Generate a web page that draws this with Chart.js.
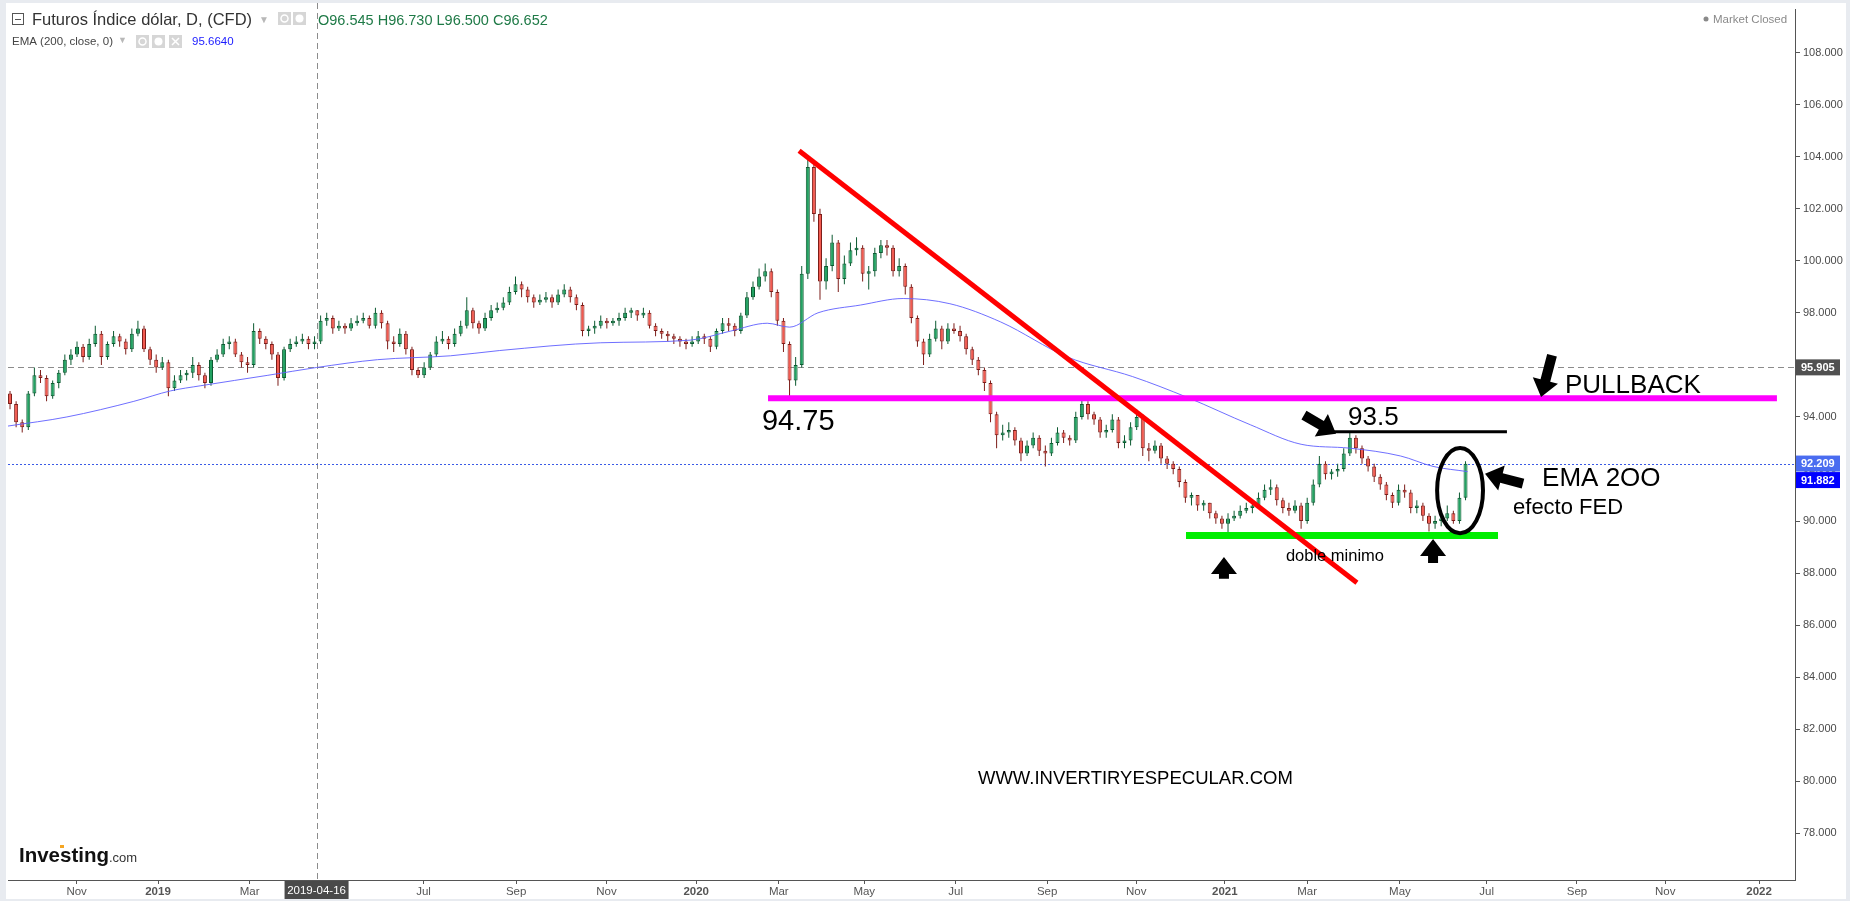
<!DOCTYPE html>
<html>
<head>
<meta charset="utf-8">
<script src="https://cdn.jsdelivr.net/npm/chart.js@4.4.1/dist/chart.umd.min.js"></script>
<style>
html, body { margin: 0; padding: 0; background: #e8ebf0; }
canvas { display: block; }
</style>
</head>
<body>
<canvas id="dxy" width="1850" height="901"></canvas>
<script>
// each candle covers 3 trading days; x axis is counted in trading days
const barStep = 3;
const firstOpen = 94.9;
const closes = [
  94.5, 93.8, 93.6, 94.9, 95.6, 95.5, 94.8, 95.3, 95.7, 96.2,
  96.4, 96.7, 96.3, 96.8, 97.2, 96.3, 96.8, 97.1, 96.9, 96.6,
  97.2, 97.4, 96.6, 96.2, 95.9, 96.1, 95.1, 95.4, 95.6, 95.7,
  96.0, 95.6, 95.3, 96.2, 96.4, 96.8, 96.9, 96.4, 96.1, 96.0,
  97.3, 97.0, 96.8, 96.4, 95.5, 96.6, 96.8, 96.9, 97.0, 96.8,
  96.9, 97.7, 97.8, 97.4, 97.5, 97.4, 97.6, 97.7, 97.8, 97.5,
  98.0, 97.6, 96.9, 96.8, 97.2, 96.6, 95.8, 95.6, 95.9, 96.4,
  96.9, 97.0, 96.8, 97.2, 97.5, 98.1, 97.6, 97.4, 97.8, 98.1,
  98.2, 98.4, 98.8, 99.1, 98.9, 98.6, 98.4, 98.5, 98.6, 98.4,
  98.7, 98.9, 98.6, 98.3, 97.3, 97.4, 97.5, 97.7, 97.6, 97.7,
  97.8, 98.0, 98.1, 97.9, 98.0, 97.5, 97.3, 97.2, 97.1, 97.0,
  96.9, 96.8, 96.9, 97.1, 97.0, 96.7, 97.3, 97.6, 97.5, 97.3,
  97.9, 98.6, 99.0, 99.4, 99.6, 98.8, 97.7, 96.8, 95.4, 96.0,
  99.5, 103.6, 101.8, 99.2, 99.8, 100.7, 99.3, 99.9, 100.4, 100.5,
  99.5, 99.6, 100.3, 100.6, 100.5, 99.6, 99.8, 99.0, 97.8, 96.9,
  96.4, 97.0, 97.4, 96.9, 97.4, 97.3, 97.1, 96.6, 96.2, 95.8,
  95.3, 94.1, 93.3, 93.4, 93.5, 93.1, 92.6, 92.9, 93.2, 92.7,
  92.6, 93.0, 93.4, 93.2, 93.1, 94.0, 94.5, 94.1, 93.9, 93.4,
  93.5, 93.9, 93.0, 93.1, 93.6, 94.0, 92.8, 92.7, 92.9, 92.4,
  92.2, 92.0, 91.5, 90.9, 91.0, 90.6, 90.7, 90.3, 90.1, 89.9,
  90.1, 90.2, 90.4, 90.5, 90.6, 90.9, 91.2, 91.3, 90.8, 90.5,
  90.4, 90.6, 90.0, 90.7, 91.4, 92.2, 91.8, 91.9, 92.0, 92.6,
  93.2, 92.8, 92.4, 92.1, 91.7, 91.4, 91.0, 90.7, 91.2, 91.1,
  90.5, 90.6, 90.2, 89.9, 90.0, 90.1, 90.3, 90.0, 90.9, 92.2
];
const highs = [
  95.0, 94.6, 93.9, 95.0, 95.9, 95.8, 95.6, 95.4, 95.8, 96.4,
  96.6, 96.9, 96.8, 97.0, 97.5, 97.3, 96.9, 97.3, 97.2, 97.0,
  97.4, 97.7, 97.5, 96.7, 96.4, 96.3, 96.2, 95.6, 95.8, 95.8,
  96.3, 96.1, 95.7, 96.3, 96.6, 97.0, 97.1, 97.0, 96.5, 96.3,
  97.6, 97.4, 97.1, 96.9, 96.5, 96.7, 97.0, 97.1, 97.2, 97.1,
  97.1, 97.9, 98.0, 97.9, 97.7, 97.6, 97.8, 97.9, 98.0, 97.9,
  98.2, 98.1, 97.7, 97.1, 97.4, 97.3, 96.7, 95.9, 96.1, 96.5,
  97.1, 97.3, 97.1, 97.4, 97.7, 98.6, 98.2, 97.7, 98.0, 98.3,
  98.4, 98.6, 99.0, 99.4, 99.2, 99.0, 98.7, 98.7, 98.8, 98.7,
  98.9, 99.1, 99.0, 98.7, 98.4, 97.5, 97.7, 97.9, 97.8, 97.8,
  98.0, 98.2, 98.2, 98.1, 98.2, 98.1, 97.6, 97.4, 97.3, 97.2,
  97.1, 97.0, 97.1, 97.3, 97.2, 97.1, 97.4, 97.8, 97.8, 97.6,
  98.0, 98.8, 99.2, 99.7, 99.9, 99.7, 98.9, 97.8, 96.9, 96.3,
  99.8, 103.9, 103.8, 102.0, 100.1, 101.0, 100.8, 100.2, 100.7, 100.9,
  100.6, 99.8, 100.5, 100.8, 100.8, 100.6, 100.1, 99.9, 99.1, 97.9,
  97.0, 97.2, 97.7, 97.5, 97.6, 97.6, 97.5, 97.2, 96.7, 96.3,
  95.9, 95.4, 94.2, 93.7, 93.8, 93.6, 93.2, 93.1, 93.4, 93.3,
  92.9, 93.2, 93.6, 93.5, 93.3, 94.2, 94.75, 94.6, 94.2, 94.0,
  93.7, 94.1, 94.0, 93.3, 93.8, 94.3, 94.1, 93.0, 93.1, 93.0,
  92.5, 92.3, 92.1, 91.6, 91.1, 91.0, 90.8, 90.7, 90.4, 90.2,
  90.3, 90.4, 90.6, 90.7, 90.8, 91.1, 91.4, 91.6, 91.4, 90.9,
  90.7, 90.8, 90.7, 90.9, 91.6, 92.5, 92.3, 92.0, 92.2, 92.8,
  93.45, 93.3, 92.9, 92.5, 92.2, 91.8, 91.5, 91.1, 91.4, 91.4,
  91.2, 90.8, 90.7, 90.3, 90.2, 90.3, 90.6, 90.4, 91.1, 92.3
];
const lows = [
  94.3, 93.6, 93.4, 93.5, 94.8, 95.3, 94.6, 94.7, 95.1, 95.6,
  96.0, 96.3, 96.1, 96.2, 96.7, 96.0, 96.2, 96.7, 96.7, 96.4,
  96.5, 97.1, 96.5, 96.0, 95.7, 95.8, 94.8, 95.0, 95.3, 95.4,
  95.5, 95.4, 95.1, 95.2, 96.1, 96.3, 96.6, 96.3, 95.9, 95.7,
  95.9, 96.8, 96.6, 96.2, 95.2, 95.4, 96.5, 96.7, 96.8, 96.6,
  96.6, 96.8, 97.5, 97.2, 97.3, 97.2, 97.3, 97.5, 97.6, 97.4,
  97.4, 97.4, 96.6, 96.5, 96.7, 96.4, 95.6, 95.5, 95.5, 95.8,
  96.3, 96.8, 96.6, 96.7, 97.1, 97.4, 97.4, 97.2, 97.3, 97.7,
  98.0, 98.1, 98.3, 98.7, 98.6, 98.4, 98.2, 98.3, 98.4, 98.2,
  98.3, 98.6, 98.4, 98.1, 97.1, 97.1, 97.2, 97.4, 97.4, 97.5,
  97.5, 97.7, 97.8, 97.7, 97.8, 97.4, 97.1, 97.0, 96.9, 96.8,
  96.7, 96.6, 96.7, 96.8, 96.8, 96.5, 96.6, 97.2, 97.3, 97.1,
  97.2, 97.8, 98.5, 98.9, 99.2, 98.6, 97.5, 96.5, 94.75, 95.2,
  95.9, 99.3, 101.5, 98.5, 98.9, 99.6, 98.8, 99.1, 99.8, 100.2,
  99.2, 98.9, 99.4, 100.1, 100.2, 99.4, 99.4, 98.7, 97.6, 96.7,
  96.0, 96.3, 96.9, 96.6, 96.8, 97.2, 96.9, 96.4, 96.0, 95.6,
  95.0, 93.8, 92.8, 93.1, 93.2, 92.9, 92.3, 92.5, 92.8, 92.5,
  92.1, 92.5, 92.9, 93.0, 92.9, 93.0, 93.9, 93.9, 93.7, 93.2,
  93.2, 93.4, 92.8, 92.8, 92.9, 93.5, 92.5, 92.3, 92.6, 92.2,
  92.0, 91.8, 91.3, 90.7, 90.6, 90.4, 90.4, 90.1, 89.9, 89.7,
  89.4, 90.0, 90.1, 90.3, 90.3, 90.5, 90.8, 91.0, 90.6, 90.3,
  90.2, 90.3, 89.7, 89.9, 90.6, 91.3, 91.6, 91.6, 91.7, 91.9,
  92.5, 92.6, 92.2, 91.9, 91.5, 91.2, 90.8, 90.5, 90.6, 90.9,
  90.3, 90.3, 90.0, 89.6, 89.7, 89.8, 90.0, 89.9, 89.9, 90.8
];

// EMA(200)
const emaX = [0, 29, 62, 80, 95, 128, 152, 182, 218, 242, 292, 336, 356, 374, 385, 399, 420, 441, 464, 489, 522, 554, 581, 612, 637, 661, 686, 702, 719];
const emaY = [93.65, 94.0, 94.6, 95.0, 95.2, 95.6, 95.9, 96.2, 96.35, 96.55, 96.85, 96.95, 97.3, 97.6, 97.45, 98.0, 98.3, 98.55, 98.35, 97.65, 96.3, 95.55, 94.75, 93.7, 92.95, 92.8, 92.5, 92.1, 91.9];

const tickPos = [33.8, 73.9, 119, 204.7, 250.3, 294.8, 339, 379.7, 421.8, 466.8, 511.9, 555.8, 599.4, 640, 685.7, 728.4, 772.9, 816.4, 862.6];
const tickLabels = ["Nov", "2019", "Mar", "Jul", "Sep", "Nov", "2020", "Mar", "May", "Jul", "Sep", "Nov", "2021", "Mar", "May", "Jul", "Sep", "Nov", "2022"];
const yTicks = [78, 80, 82, 84, 86, 88, 90, 92, 94, 96, 98, 100, 102, 104, 106, 108];

const lastPrice = 92.209;
const emaLast = 91.882;
const crossPrice = 95.905;
const crossX = 152;
const crossDate = "2019-04-16";

// hand-drawn lines, in chart units
const redTrend = [{x: 389.7, y: 104.23}, {x: 664.5, y: 87.63}];
const pinkLevel = [{x: 374.4, y: 94.72}, {x: 871.4, y: 94.72}];
const blackLevel = [{x: 652, y: 93.43}, {x: 738.4, y: 93.43}];
const greenLevel = [{x: 580.3, y: 89.45}, {x: 734, y: 89.45}];

const noteTexts = ["94.75", "93.5", "PULLBACK", "EMA 2OO", "efecto FED", "doble minimo"];
const noteAt = [[371.4, 93.5], [660.1, 93.69], [767, 94.92], [755.7, 91.36], [741.4, 90.26], [629.5, 88.45]];
const noteSize = [29, 26, 26, 26, 22, 16.5];
const arrows = [
  [[760.6, 96.37], [755.2, 94.77]],
  [[638.4, 94.07], [654.2, 93.35]],
  [[746.3, 91.44], [727.6, 91.82]],
  [[599, 87.78], [599, 88.62]],
  [[702, 88.39], [702, 89.31]]
];
const ring = {x: 715.3, y: 91.17, rx: 11.3, ry: 1.64};

const xs = closes.map((c, i) => 1 + barStep * i);
const opens = [firstOpen].concat(closes.slice(0, -1));
const rising = closes.map((c, i) => c >= opens[i]);
const bodyFill = rising.map(r => r ? '#22a262' : '#f25a50');
const bodyEdge = rising.map(r => r ? '#0c5a31' : '#7c1d19');

const SANS = "'Liberation Sans', Arial, sans-serif";

function blockArrow(c, x1, y1, x2, y2) {
  const ang = Math.atan2(y2 - y1, x2 - x1);
  const len = Math.hypot(x2 - x1, y2 - y1);
  const sh = 10, hw = 26, hl = 17;
  c.save();
  c.translate(x1, y1);
  c.rotate(ang);
  c.beginPath();
  c.moveTo(0, -sh / 2);
  c.lineTo(len - hl, -sh / 2);
  c.lineTo(len - hl, -hw / 2);
  c.lineTo(len, 0);
  c.lineTo(len - hl, hw / 2);
  c.lineTo(len - hl, sh / 2);
  c.lineTo(0, sh / 2);
  c.closePath();
  c.fillStyle = '#000';
  c.fill();
  c.restore();
}

function axisBox(c, text, y, fill) {
  c.fillStyle = fill;
  c.fillRect(1796, y - 8, 44, 16);
  c.fillStyle = '#fff';
  c.font = "bold 11px " + SANS;
  c.textAlign = 'left';
  c.textBaseline = 'middle';
  c.fillText(text, 1801, y + 0.5);
}

function iconBox(c, x, y, kind) {
  c.fillStyle = '#d6d6d6';
  c.fillRect(x, y, 13, 13);
  c.strokeStyle = '#fff';
  c.fillStyle = '#fff';
  c.lineWidth = 1.5;
  c.beginPath();
  if (kind === 'eye') {
    c.arc(x + 6.5, y + 6.5, 3.5, 0, Math.PI * 2);
    c.stroke();
  } else if (kind === 'gear') {
    c.arc(x + 6.5, y + 6.5, 4, 0, Math.PI * 2);
    c.fill();
  } else {
    c.moveTo(x + 3, y + 3); c.lineTo(x + 10, y + 10);
    c.moveTo(x + 10, y + 3); c.lineTo(x + 3, y + 10);
    c.stroke();
  }
}

const decor = {
  id: 'decor',
  beforeDraw(chart) {
    const c = chart.ctx;
    c.save();
    c.fillStyle = '#e8ebf0';
    c.fillRect(0, 0, chart.width, chart.height);
    c.fillStyle = '#fff';
    c.fillRect(6, 3, 1840, 896);
    c.restore();
  },
  beforeDatasetsDraw(chart) {
    const c = chart.ctx, a = chart.chartArea;
    const sx = chart.scales.x, sy = chart.scales.y;
    c.save();
    c.lineWidth = 1;
    c.setLineDash([6, 4]);
    c.strokeStyle = '#8c8c8c';
    const px = Math.round(sx.getPixelForValue(crossX)) + 0.5;
    c.beginPath();
    c.moveTo(px, 3);
    c.lineTo(px, a.bottom);
    const py = Math.round(sy.getPixelForValue(crossPrice)) + 0.5;
    c.moveTo(a.left, py);
    c.lineTo(a.right, py);
    c.stroke();
    c.setLineDash([2, 2]);
    c.strokeStyle = '#3a5ae6';
    const pl = Math.round(sy.getPixelForValue(lastPrice)) + 0.5;
    c.beginPath();
    c.moveTo(a.left, pl);
    c.lineTo(a.right, pl);
    c.stroke();
    c.restore();
  },
  afterDatasetsDraw(chart) {
    const c = chart.ctx;
    const sx = chart.scales.x, sy = chart.scales.y;
    c.save();
    // ellipse round the last candles
    const cx = sx.getPixelForValue(ring.x), cy = sy.getPixelForValue(ring.y);
    const rx = sx.getPixelForValue(ring.x + ring.rx) - cx;
    const ry = cy - sy.getPixelForValue(ring.y + ring.ry);
    c.beginPath();
    c.ellipse(cx, cy, rx, ry, 0, 0, Math.PI * 2);
    c.lineWidth = 4;
    c.strokeStyle = '#000';
    c.stroke();
    arrows.forEach(([t, h]) => {
      blockArrow(c, sx.getPixelForValue(t[0]), sy.getPixelForValue(t[1]),
        sx.getPixelForValue(h[0]), sy.getPixelForValue(h[1]));
    });
    c.fillStyle = '#000';
    c.textAlign = 'left';
    c.textBaseline = 'alphabetic';
    noteTexts.forEach((t, i) => {
      c.font = noteSize[i] + "px " + SANS;
      c.fillText(t, sx.getPixelForValue(noteAt[i][0]), sy.getPixelForValue(noteAt[i][1]));
    });
    c.font = "18.5px " + SANS;
    c.fillText("WWW.INVERTIRYESPECULAR.COM", sx.getPixelForValue(477.8), sy.getPixelForValue(79.91));
    c.restore();
  },
  afterDraw(chart) {
    const c = chart.ctx;
    const sx = chart.scales.x, sy = chart.scales.y;
    c.save();
    // header
    c.strokeStyle = '#555';
    c.lineWidth = 1;
    c.strokeRect(12.5, 13.5, 11, 11);
    c.beginPath();
    c.moveTo(15, 19.5);
    c.lineTo(21, 19.5);
    c.stroke();
    c.textBaseline = 'alphabetic';
    c.textAlign = 'left';
    c.fillStyle = '#333';
    c.font = "16.5px " + SANS;
    c.fillText("Futuros Índice dólar, D, (CFD)", 32, 25);
    c.fillStyle = '#b8b8b8';
    c.font = "10px " + SANS;
    c.fillText("▼", 259, 23);
    iconBox(c, 278, 12, 'eye');
    iconBox(c, 293, 12, 'gear');
    c.fillStyle = '#1f7a47';
    c.font = "14.5px " + SANS;
    c.fillText("O96.545 H96.730 L96.500 C96.652", 318, 25);
    c.fillStyle = '#444';
    c.font = "11.5px " + SANS;
    c.fillText("EMA (200, close, 0)", 12, 45);
    c.fillStyle = '#b8b8b8';
    c.font = "9px " + SANS;
    c.fillText("▼", 118, 43);
    iconBox(c, 136, 35, 'eye');
    iconBox(c, 152, 35, 'gear');
    iconBox(c, 169, 35, 'x');
    c.fillStyle = '#1a1aff';
    c.font = "11.5px " + SANS;
    c.fillText("95.6640", 192, 45);
    c.fillStyle = '#8a8a8a';
    c.beginPath();
    c.arc(1706, 19, 2.5, 0, Math.PI * 2);
    c.fill();
    c.font = "11.5px " + SANS;
    c.fillText("Market Closed", 1713, 23);
    // price boxes on the right axis
    axisBox(c, crossPrice.toFixed(3), sy.getPixelForValue(crossPrice), '#505050');
    const yl = sy.getPixelForValue(lastPrice);
    axisBox(c, lastPrice.toFixed(3), yl, '#4a6cf0');
    axisBox(c, emaLast.toFixed(3), Math.max(sy.getPixelForValue(emaLast), yl + 16.5), '#0000ff');
    // date box on the time axis
    const px = sx.getPixelForValue(crossX);
    c.fillStyle = '#4a4a4a';
    c.fillRect(px - 32, 881, 64, 18);
    c.fillStyle = '#fff';
    c.font = "11.5px " + SANS;
    c.textAlign = 'center';
    c.textBaseline = 'middle';
    c.fillText(crossDate, px, 891);
    // logo
    c.textAlign = 'left';
    c.textBaseline = 'alphabetic';
    c.fillStyle = '#111';
    c.font = "bold 20.5px " + SANS;
    c.fillText("Investing", 19, 862);
    const w = c.measureText("Investing").width;
    c.fillStyle = '#f5a623';
    c.fillRect(60, 845, 4, 3);
    c.fillStyle = '#333';
    c.font = "13px " + SANS;
    c.fillText(".com", 19 + w, 862);
    c.restore();
  }
};

function lineSet(pts, color, width) {
  return { type: 'line', data: pts, borderColor: color, borderWidth: width, pointRadius: 0, order: 1, borderCapStyle: 'butt' };
}

new Chart(document.getElementById('dxy'), {
  type: 'bar',
  data: {
    datasets: [
      lineSet(redTrend, '#ff0000', 5),
      lineSet(blackLevel, '#000000', 3),
      lineSet(greenLevel, '#00ee00', 7),
      lineSet(pinkLevel, '#ff00ff', 6),
      {
        type: 'line', label: 'EMA', data: emaX.map((x, i) => ({x, y: emaY[i]})),
        borderColor: 'rgba(95,95,255,0.9)', borderWidth: 1, pointRadius: 0,
        cubicInterpolationMode: 'monotone', order: 2
      },
      {
        label: 'body', data: xs.map((x, i) => ({x, y: [opens[i], closes[i]]})),
        backgroundColor: bodyFill, borderColor: bodyEdge, borderWidth: 1, borderSkipped: false,
        maxBarThickness: 4, minBarLength: 2, grouped: false, order: 3
      },
      {
        label: 'wick', data: xs.map((x, i) => ({x, y: [lows[i], highs[i]]})),
        backgroundColor: bodyEdge, maxBarThickness: 1, grouped: false, order: 4
      }
    ]
  },
  options: {
    responsive: false,
    animation: false,
    events: [],
    layout: { padding: { left: 8, top: 4, right: 0, bottom: 0 } },
    plugins: { legend: { display: false }, tooltip: { enabled: false } },
    scales: {
      x: {
        type: 'linear', min: 0, max: 880.3, offset: false,
        afterBuildTicks: s => { s.ticks = tickPos.map(v => ({value: v})); },
        afterFit: s => { s.height = 21; },
        grid: { drawOnChartArea: false, tickLength: 4, color: '#555', offset: false },
        border: { color: '#555' },
        ticks: {
          autoSkip: false, maxRotation: 0, padding: 1, color: '#555',
          font: ctx => ({ family: SANS, size: 11.5, weight: /^\d{4}$/.test(tickLabels[ctx.index]) ? 'bold' : 'normal' }),
          callback: (v, i) => tickLabels[i]
        }
      },
      y: {
        type: 'linear', position: 'right', min: 76.21, max: 109.65,
        afterBuildTicks: s => { s.ticks = yTicks.map(v => ({value: v})); },
        afterFit: s => { s.width = 55; },
        grid: { drawOnChartArea: false, tickLength: 5, color: '#555' },
        border: { color: '#555' },
        ticks: { padding: 3, color: '#4a4a4a', font: { family: SANS, size: 11 }, callback: v => v.toFixed(3) }
      }
    }
  },
  plugins: [decor]
});
</script>
</body>
</html>
